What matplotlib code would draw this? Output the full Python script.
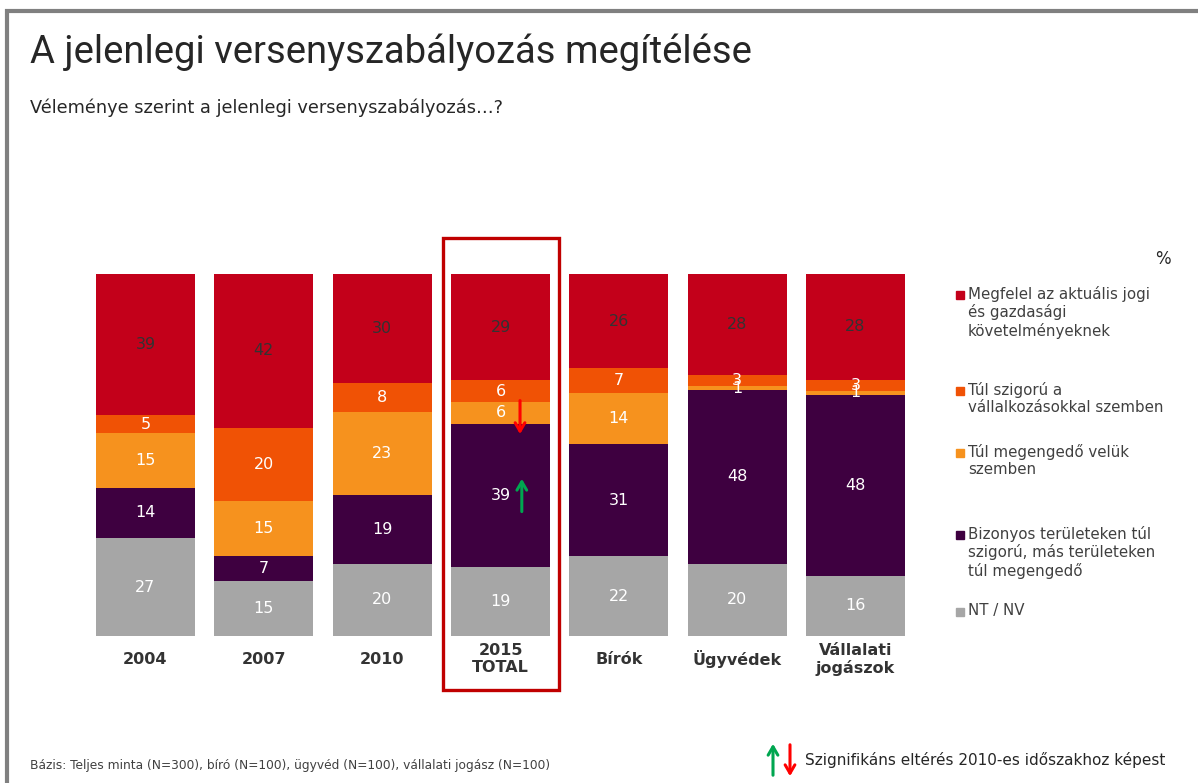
import numpy as np
import matplotlib
matplotlib.use("Agg")
import matplotlib.pyplot as plt
from matplotlib.patches import Rectangle

categories = ["2004", "2007", "2010", "2015\nTOTAL", "Bírók", "Ügyvédek", "Vállalati\njogászok"]

# stacked from bottom to top
nt_nv      = [27, 15, 20, 19, 22, 20, 16]
bizonyos   = [14, 7, 19, 39, 31, 48, 48]
megengedo  = [15, 15, 23, 6, 14, 1, 1]
szigoru    = [5, 20, 8, 6, 7, 3, 3]
megfelel   = [39, 42, 30, 29, 26, 28, 28]

series_names = [
    "NT / NV",
    "Bizonyos területeken túl\nszigorú, más területeken\ntúl megengedő",
    "Túl megengedő velük\nszemben",
    "Túl szigorú a\nvállalkozásokkal szemben",
    "Megfelel az aktuális jogi\nés gazdasági\nkövetelményeknek",
]
colors = ["#A6A6A6", "#3E0040", "#F6921E", "#F05205", "#C3001A"]
label_colors = ["white", "white", "white", "white", "#333333"]

W, H = 1198, 783
fig = plt.figure(figsize=(W / 100, H / 100), dpi=100)

# overlay in pixel coordinates for frame, texts and legend
ov = fig.add_axes([0, 0, 1, 1], zorder=0)
ov.set_xlim(0, W)
ov.set_ylim(H, 0)
ov.axis("off")

# slide frame
ov.plot([5, W], [11, 11], color="#808080", lw=3, solid_capstyle="butt")
ov.plot([7, 7], [9, H], color="#808080", lw=3, solid_capstyle="butt")

ov.text(30, 63, "A jelenlegi versenyszabályozás megítélése", fontsize=27.5,
        family=["Roboto", "DejaVu Sans"], color="#262626", va="baseline")
ov.text(30, 108, "Véleménye szerint a jelenlegi versenyszabályozás…?", fontsize=12.8,
        color="#262626", va="center")

# main bar chart
left = 86.3 / W
right = 914.7 / W
bottom = 1 - 636 / H
top = 1 - 274 / H
ax = fig.add_axes([left, bottom, right - left, top - bottom], zorder=2)
ax.patch.set_alpha(0)

stack = np.array([nt_nv, bizonyos, megengedo, szigoru, megfelel], dtype=float)
shares = stack / stack.sum(axis=0) * 100
x = np.arange(len(categories))
base = np.zeros(len(categories))
for i in range(len(stack)):
    ax.bar(x, shares[i], bottom=base, width=0.837, color=colors[i], edgecolor="none")
    for j in range(len(categories)):
        ax.text(x[j], base[j] + shares[i][j] / 2, f"{int(stack[i][j])}", ha="center",
                va="center", fontsize=11.5, color=label_colors[i])
    base += shares[i]

ax.set_xlim(-0.5, len(categories) - 0.5)
ax.set_ylim(0, 100)
ax.axis("off")

for j, cat in enumerate(categories):
    ax.text(x[j], -6.4, cat, ha="center", va="center", fontsize=11.5, fontweight="bold",
            color="#333333", linespacing=1.15, transform=ax.transData)

# highlight box around 2015 TOTAL
ax.add_patch(Rectangle((2.514, -14.9), 0.98, 124.8, fill=False, edgecolor="#C00000",
                       lw=2.4, clip_on=False))

# significance arrows
ax.annotate("", xy=(3.165, 55.0), xytext=(3.165, 65.8),
            arrowprops=dict(arrowstyle="->,head_width=0.35,head_length=0.6", color="#FF0000", lw=2.2))
ax.annotate("", xy=(3.18, 44.2), xytext=(3.18, 33.6),
            arrowprops=dict(arrowstyle="->,head_width=0.35,head_length=0.6", color="#00A650", lw=2.2))

# legend
ov.text(1163, 259, "%", fontsize=12, color="#262626", ha="center", va="center")
legend_rows = [295, 391, 453, 535, 612]
for k, idx in enumerate([4, 3, 2, 1, 0]):
    y0 = legend_rows[k]
    ov.add_patch(Rectangle((956, y0 - 4), 8, 8, color=colors[idx]))
    ov.text(968, y0 - 9, series_names[idx], fontsize=10.8, color="#404040",
            va="top", ha="left", linespacing=1.18)

# footer
ov.text(30, 765, "Bázis: Teljes minta (N=300), bíró (N=100), ügyvéd (N=100), vállalati jogász (N=100)",
        fontsize=8.8, color="#404040", va="center")
ov.annotate("", xy=(773, 741), xytext=(773, 778),
            arrowprops=dict(arrowstyle="->,head_width=0.35,head_length=0.6", color="#00A650", lw=2.2))
ov.annotate("", xy=(790, 779), xytext=(790, 742),
            arrowprops=dict(arrowstyle="->,head_width=0.35,head_length=0.6", color="#FF0000", lw=2.2))
ov.text(805, 760, "Szignifikáns eltérés 2010-es időszakhoz képest", fontsize=11,
        color="#262626", va="center")

fig.savefig("out.png", dpi=100)
